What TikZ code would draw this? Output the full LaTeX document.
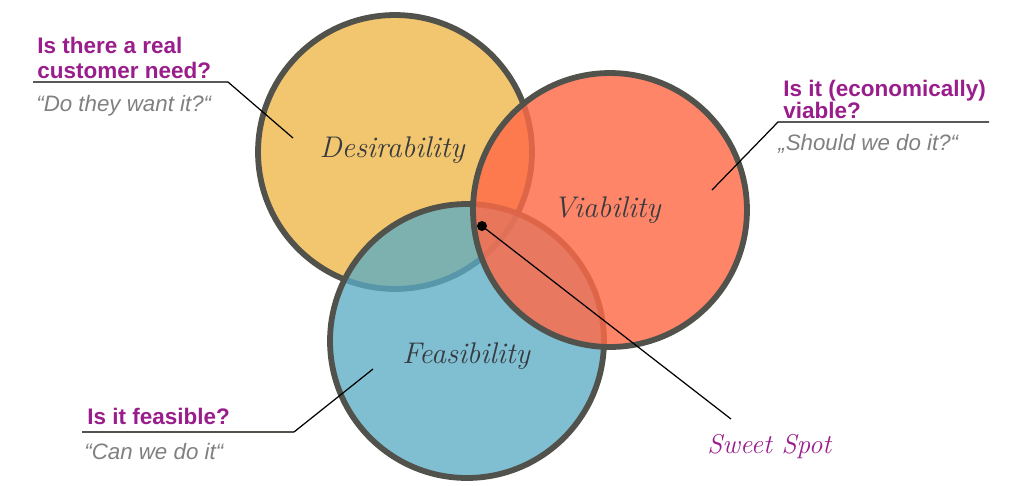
\documentclass[tikz,border=0pt]{standalone}
\usepackage{fontspec}
\newfontfamily\arialf{Liberation Sans}
\definecolor{yel}{RGB}{242,198,110}
\definecolor{blu}{RGB}{90,171,197}
\definecolor{rd}{RGB}{255,106,72}
\definecolor{rim}{RGB}{82,82,76}
\definecolor{mag}{RGB}{153,30,140}
\definecolor{gry}{RGB}{128,128,128}
\definecolor{ink}{RGB}{55,58,62}
\tikzset{
  bubble/.style={circle, draw=rim, line width=3.3pt, minimum size=5.48cm, inner sep=0pt, outer sep=0pt},
  hand/.style={font=\fontsize{17}{20}\selectfont\itshape, text=ink, anchor=base, inner sep=0pt},
  question/.style={font=\arialf\bfseries\fontsize{12.8}{15}\selectfont, text=mag, anchor=base west, inner sep=0pt},
  quote/.style={font=\arialf\itshape\fontsize{12.7}{15}\selectfont, text=gry, anchor=base west, inner sep=0pt},
  leader/.style={draw=black, line width=0.7pt},
}
\begin{document}
\begin{tikzpicture}[x=0.02cm,y=-0.02cm]
\useasboundingbox (0,0) rectangle (1015,485);
% circles
\node[bubble, fill=yel] (D) at (395,152) {};
\node[bubble, fill=blu, fill opacity=0.77] (F) at (467,341) {};
\node[bubble, fill=rd, fill opacity=0.82] (V) at (610,210) {};
% circle labels
\node[hand] (Dl) at (392,157) {Desirability};
\node[hand] (Vl) at (607,217) {Viability};
\node[hand] (Fl) at (466,363) {Feasibility};
% questions
\node[question] (q1a) at (37,53) {Is there a real};
\node[question] (q1b) at (37,78) {customer need?};
\node[quote] (q1c) at (36,111) {“Do they want it?“};
\node[question] (q2a) at (783,96) {Is it (economically)};
\node[question] (q2b) at (783,118) {viable?};
\node[quote] (q2c) at (778,150) {„Should we do it?“};
\node[question] (q3a) at (87,424) {Is it feasible?};
\node[quote] (q3c) at (84,459) {“Can we do it“};
\node[font=\fontsize{15.5}{18}\selectfont\itshape, text=mag, anchor=base west, inner sep=0pt] (ss) at (707,453) {Sweet Spot};
% leaders
\coordinate (d0) at (33,82); \coordinate (d1) at (228,82); \coordinate (d2) at (293,138);
\draw[leader] (d0) -- (d1) -- (d2);
\coordinate (v0) at (989,122); \coordinate (v1) at (778,122); \coordinate (v2) at (712,190);
\draw[leader] (v0) -- (v1) -- (v2);
\coordinate (f0) at (82,432); \coordinate (f1) at (294,432); \coordinate (f2) at (373,369);
\draw[draw=rim, line width=1.2pt] (f0) -- (f1);
\draw[leader] (f1) -- (f2);
\node[circle, fill=black, minimum size=0.2cm, inner sep=0pt] (dot) at (482,226) {};
\coordinate (s1) at (731,419);
\draw[leader] (dot.center) -- (s1);
\end{tikzpicture}
\end{document}
